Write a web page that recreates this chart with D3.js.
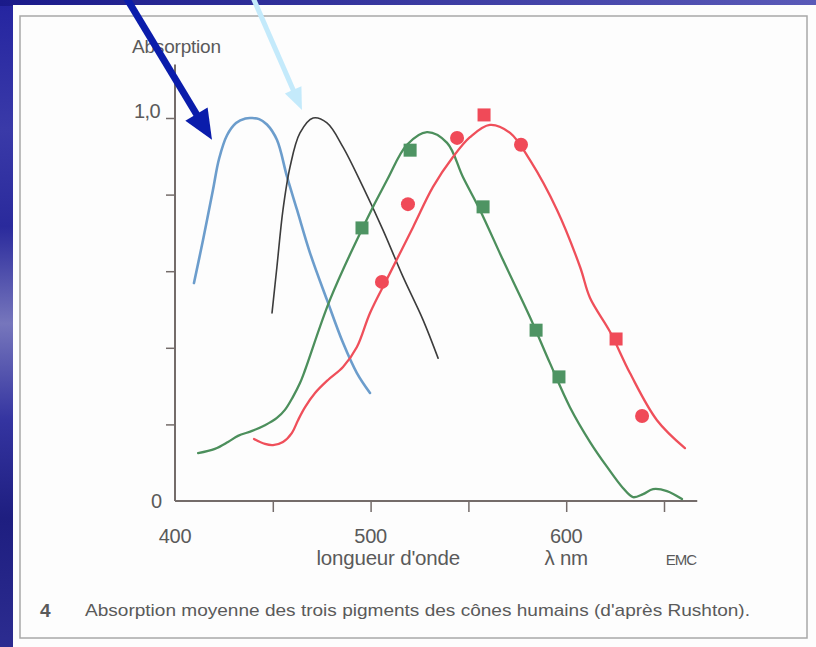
<!DOCTYPE html>
<html lang="fr">
<head>
  <meta charset="UTF-8">
  <title>Absorption des pigments des cônes</title>
  <style>
    body { margin: 0; background: #1e1e8a; }
    svg { display: block; }
    text { font-family: "Liberation Sans", Arial, sans-serif; fill: #5a5a5a; }
  </style>
  <script src="https://d3js.org/d3.v7.min.js"></script>
</head>
<body>
<svg id="chart"></svg>
<script>
  // Data: wavelength (nm) / absorption
  const blueNm  = [409.7, 414.3, 419.4, 422.5, 426.6, 431.2, 436.0, 439.4, 443.0, 447.0, 452.1, 457.3, 462.4, 469.0, 477.7, 485.9, 493.0, 499.7];
  const blueAbs = [0.569, 0.681, 0.812, 0.893, 0.955, 0.987, 0.999, 1.000, 0.997, 0.983, 0.943, 0.846, 0.760, 0.648, 0.525, 0.413, 0.334, 0.282];

  const rodNm  = [449.6, 452.1, 455.2, 458.8, 463.9, 470.6, 477.7, 485.9, 496.1, 506.3, 516.6, 526.8, 534.5];
  const rodAbs = [0.491, 0.611, 0.760, 0.872, 0.961, 1.000, 0.987, 0.924, 0.820, 0.708, 0.585, 0.473, 0.373];

  const greenNm  = [411.8, 420.4, 427.1, 432.2, 439.4, 446.0, 452.1, 456.2, 460.3, 463.9, 466.5, 479.2, 496.1, 508.4, 518.6, 528.8, 539.1, 547.2, 555.9, 567.7, 581.5, 591.7, 601.9, 612.2, 620.9, 629.0, 634.2, 639.3, 644.4, 651.5, 659.2];
  const greenAbs = [0.125, 0.136, 0.154, 0.170, 0.183, 0.198, 0.217, 0.238, 0.272, 0.308, 0.342, 0.525, 0.715, 0.838, 0.930, 0.963, 0.935, 0.846, 0.760, 0.629, 0.480, 0.360, 0.245, 0.154, 0.089, 0.034, 0.010, 0.018, 0.031, 0.026, 0.005];

  const redNm  = [440.4, 446.0, 450.1, 455.2, 459.8, 462.9, 466.5, 471.6, 478.2, 485.9, 493.0, 499.7, 509.9, 521.7, 531.9, 542.1, 550.8, 561.0, 571.3, 581.5, 595.3, 607.1, 612.2, 622.4, 632.6, 646.4, 660.7];
  const redAbs = [0.162, 0.149, 0.146, 0.154, 0.178, 0.211, 0.245, 0.282, 0.316, 0.350, 0.402, 0.491, 0.595, 0.715, 0.820, 0.898, 0.950, 0.982, 0.961, 0.890, 0.760, 0.611, 0.530, 0.442, 0.334, 0.211, 0.138];

  const greenSqNm  = [495.6, 520.2, 557.5, 584.6, 596.3];
  const greenSqAbs = [0.713, 0.916, 0.768, 0.446, 0.324];
  const redDotNm   = [505.8, 519.1, 544.2, 576.9, 638.8];
  const redDotAbs  = [0.572, 0.775, 0.948, 0.930, 0.222];
  const redSqNm    = [558.0, 625.5];
  const redSqAbs   = [1.008, 0.423];

  const xTicks = [450, 500, 550, 600, 650];
  const xLabels = [400, 500, 600];
  const yTicks = [0.2, 0.4, 0.6, 0.8, 1.0];

  const W = 816, H = 647;
  const svg = d3.select("#chart").attr("width", W).attr("height", H);

  // slide background + paper
  const defs = svg.append("defs");
  const gTop = defs.append("linearGradient").attr("id", "gTop");
  gTop.append("stop").attr("offset", "0%").attr("stop-color", "#1a1a8a");
  gTop.append("stop").attr("offset", "100%").attr("stop-color", "#5a5ab8");
  const gLeft = defs.append("linearGradient").attr("id", "gLeft")
    .attr("x1", 0).attr("y1", 0).attr("x2", 0).attr("y2", 1);
  [["0%", "#2424a0"], ["20%", "#3a3aa8"], ["35%", "#2a2a9c"], ["50%", "#7676bc"], ["65%", "#3434a0"], ["80%", "#1e1e80"], ["100%", "#2c2c90"]]
    .forEach(s => gLeft.append("stop").attr("offset", s[0]).attr("stop-color", s[1]));
  svg.append("rect").attr("width", W).attr("height", H).attr("fill", "url(#gLeft)");
  svg.append("rect").attr("width", W).attr("height", 6).attr("fill", "url(#gTop)");
  svg.append("rect").attr("x", 13).attr("y", 5).attr("width", W - 13).attr("height", H - 5).attr("fill", "#fdfdfd");
  svg.append("rect").attr("x", 20).attr("y", 16).attr("width", 787).attr("height", 622)
    .attr("fill", "none").attr("stroke", "#a8a8a8").attr("stroke-width", 1.5);

  // scales
  const x = d3.scaleLinear().domain([400, 650]).range([175, 664]);
  const y = d3.scaleLinear().domain([0, 1]).range([501, 118]);

  const axisColor = "#746c6a";

  // y axis
  const yAxis = svg.append("g")
    .attr("transform", `translate(${x(400)},0)`)
    .call(d3.axisLeft(y).tickValues(yTicks).tickSize(9).tickFormat(""));
  yAxis.select(".domain").remove();
  yAxis.selectAll("line").attr("stroke", axisColor).attr("stroke-width", 1.5);
  svg.append("line").attr("x1", x(400)).attr("x2", x(400))
    .attr("y1", y(1.14)).attr("y2", y(0))
    .attr("stroke", axisColor).attr("stroke-width", 2);

  // x axis
  const xAxis = svg.append("g")
    .attr("transform", `translate(0,${y(0)})`)
    .call(d3.axisBottom(x).tickValues(xTicks).tickSize(11).tickFormat(""));
  xAxis.select(".domain").remove();
  xAxis.selectAll("line").attr("stroke", axisColor).attr("stroke-width", 1.5);
  svg.append("line").attr("x1", x(400)).attr("x2", x(667))
    .attr("y1", y(0)).attr("y2", y(0))
    .attr("stroke", axisColor).attr("stroke-width", 2);

  svg.selectAll(".xlab").data(xLabels).join("text")
    .attr("x", d => x(d)).attr("y", 543)
    .attr("text-anchor", "middle").attr("font-size", 20)
    .attr("letter-spacing", -0.3)
    .text(d => d);

  svg.append("text").attr("x", 160).attr("y", y(1))
    .attr("text-anchor", "end").attr("font-size", 20).attr("letter-spacing", -0.6).text("1,0");
  svg.append("text").attr("x", 162).attr("y", y(0) + 7)
    .attr("text-anchor", "end").attr("font-size", 20).text("0");
  svg.append("text").attr("x", 132).attr("y", 53)
    .attr("font-size", 19).attr("letter-spacing", -0.2).text("Absorption");

  svg.append("text").attr("x", x(509)).attr("y", 565)
    .attr("text-anchor", "middle").attr("font-size", 20.5).attr("letter-spacing", -0.2).text("longueur d'onde");
  svg.append("text").attr("x", x(600)).attr("y", 565)
    .attr("text-anchor", "middle").attr("font-size", 20.5).attr("letter-spacing", -0.2).text("λ nm");
  svg.append("text").attr("x", 681).attr("y", 565)
    .attr("text-anchor", "middle").attr("font-size", 15).attr("letter-spacing", -1)
    .attr("fill", "#777").text("EMC");

  // caption
  svg.append("text").attr("x", 40).attr("y", 617)
    .attr("font-size", 19).attr("font-weight", "bold").attr("fill", "#333").text("4");
  svg.append("text").attr("x", 85).attr("y", 616)
    .attr("font-size", 17).attr("fill", "#444")
    .attr("textLength", 665).attr("lengthAdjust", "spacingAndGlyphs")
    .text("Absorption moyenne des trois pigments des cônes humains (d'après Rushton).");

  // curves
  const line = d3.line().x(d => x(d[0])).y(d => y(d[1])).curve(d3.curveCatmullRom.alpha(0.5));
  const zip = (a, b) => a.map((v, i) => [v, b[i]]);
  const curves = [
    {nm: blueNm, abs: blueAbs, color: "#6c9dcc", w: 2.6},
    {nm: rodNm, abs: rodAbs, color: "#3c3c3c", w: 1.6},
    {nm: greenNm, abs: greenAbs, color: "#4c8f5c", w: 2.3},
    {nm: redNm, abs: redAbs, color: "#ef4f5a", w: 2.3}
  ];
  curves.forEach(c => {
    svg.append("path").datum(zip(c.nm, c.abs))
      .attr("fill", "none").attr("stroke", c.color).attr("stroke-width", c.w)
      .attr("stroke-linecap", "round").attr("d", line);
  });

  // markers
  const sq = 13;
  svg.selectAll(".gsq").data(zip(greenSqNm, greenSqAbs)).join("rect")
    .attr("x", d => x(d[0]) - sq / 2).attr("y", d => y(d[1]) - sq / 2)
    .attr("width", sq).attr("height", sq).attr("fill", "#4e9463");
  svg.selectAll(".rsq").data(zip(redSqNm, redSqAbs)).join("rect")
    .attr("x", d => x(d[0]) - sq / 2).attr("y", d => y(d[1]) - sq / 2)
    .attr("width", sq).attr("height", sq).attr("fill", "#f04a58");
  svg.selectAll(".rdot").data(zip(redDotNm, redDotAbs)).join("circle")
    .attr("cx", d => x(d[0])).attr("cy", d => y(d[1])).attr("r", 7)
    .attr("fill", "#f04a58");

  // annotation arrows (data coordinates)
  function arrow(from, to, color, w, headLen, headW) {
    const x0 = x(from[0]), y0 = y(from[1]), x1 = x(to[0]), y1 = y(to[1]);
    const a = Math.atan2(y1 - y0, x1 - x0);
    const bx = x1 - headLen * Math.cos(a), by = y1 - headLen * Math.sin(a);
    const nx = -Math.sin(a) * headW / 2, ny = Math.cos(a) * headW / 2;
    svg.append("line").attr("x1", x0).attr("y1", y0).attr("x2", bx + Math.cos(a)).attr("y2", by + Math.sin(a))
      .attr("stroke", color).attr("stroke-width", w);
    svg.append("path")
      .attr("d", `M${x1},${y1}L${bx + nx},${by + ny}L${bx - nx},${by - ny}Z`)
      .attr("fill", color);
  }
  arrow([374.4, 1.32], [418.9, 0.943], "#0a1cab", 7, 30, 26);
  arrow([439.4, 1.32], [464.9, 1.021], "#c4eafb", 5, 22, 18);
</script>
</body>
</html>
